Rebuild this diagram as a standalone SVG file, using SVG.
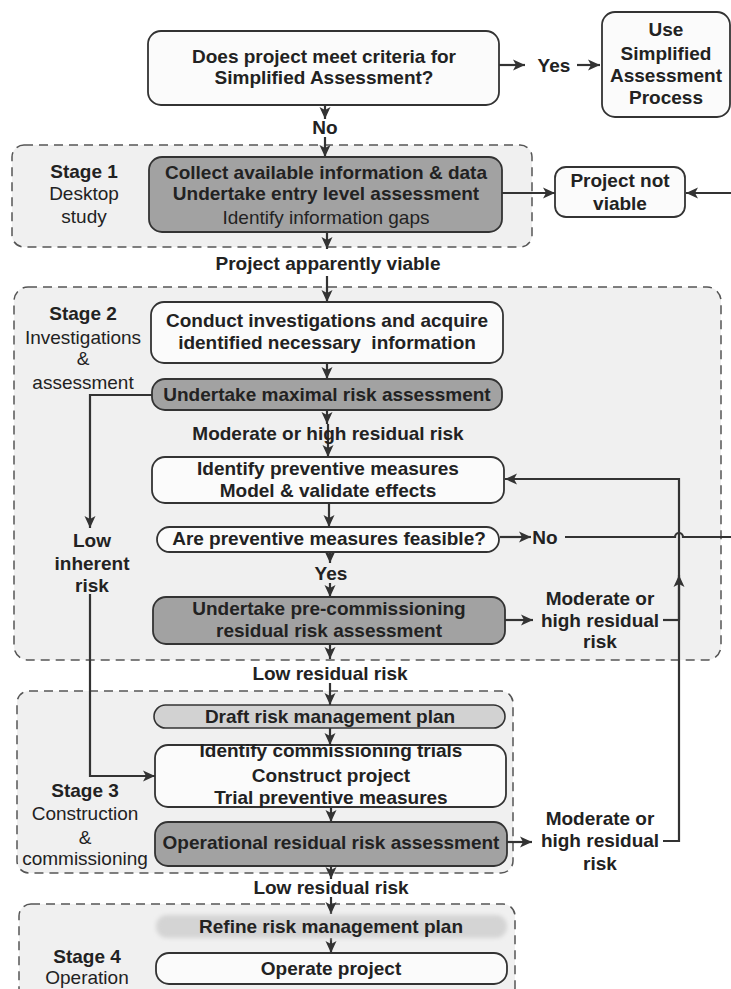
<svg xmlns="http://www.w3.org/2000/svg" width="731" height="989" viewBox="0 0 731 989">
<defs>
<marker id="ah" markerUnits="userSpaceOnUse" markerWidth="14" markerHeight="12" refX="12" refY="6" orient="auto">
<path d="M0,0.5 L12,6 L0,11.5 L3,6 Z" fill="#333"/>
</marker>
<filter id="blur" x="-5%" y="-30%" width="110%" height="160%"><feGaussianBlur stdDeviation="2"/></filter>
<style>
text{font-family:"Liberation Sans",Arial,sans-serif;font-size:19px;fill:#222;text-anchor:middle}
.b{font-weight:bold}
.stage{fill:#f0f0f0;stroke:#555;stroke-width:1.5;stroke-dasharray:9,6}
.box{fill:#fbfbfb;stroke:#333;stroke-width:1.8}
.grey{fill:#a2a2a2;stroke:#333;stroke-width:1.8}
.lt{fill:#d2d2d2;stroke:#333;stroke-width:1.6}
.c{fill:none;stroke:#333;stroke-width:2.2}
.ca{fill:none;stroke:#333;stroke-width:2.2;marker-end:url(#ah)}
</style>
</defs>
<rect width="731" height="989" fill="#ffffff"/>

<g id="stage1">
<rect class="stage" x="12" y="145" width="520" height="102" rx="12"/>
<text class="b" x="84" y="178">Stage 1</text>
<text x="84" y="200">Desktop</text>
<text x="84" y="223">study</text>
</g>
<g id="stage2">
<rect class="stage" x="14" y="287" width="707" height="373" rx="14"/>
<text class="b" x="83" y="320">Stage 2</text>
<text x="83" y="344">Investigations</text>
<text x="83" y="365">&amp;</text>
<text x="83" y="389">assessment</text>
</g>
<g id="stage3">
<rect class="stage" x="17" y="691" width="496" height="182" rx="12"/>
<text class="b" x="85" y="797">Stage 3</text>
<text x="85" y="820">Construction</text>
<text x="85" y="844">&amp;</text>
<text x="85" y="865">commissioning</text>
</g>
<g id="stage4">
<rect class="stage" x="19" y="904" width="496" height="96" rx="12"/>
<text class="b" x="87" y="963">Stage 4</text>
<text x="87" y="984">Operation</text>
</g>

<g id="connectors">
<path class="ca" d="M499,65 H525"/>
<path class="ca" d="M577,65 H600"/>
<path class="ca" d="M325,105 V119"/>
<path class="ca" d="M325,137 V157"/>
<path class="ca" d="M502,193 H555"/>
<path class="ca" d="M731,193 H686"/>
<path class="ca" d="M327,232 V249"/>
<path class="ca" d="M327,276 V302"/>
<path class="ca" d="M327,363 V379"/>
<path class="ca" d="M327,410 V424"/>
<path class="ca" d="M328,424 V457"/>
<path class="ca" d="M329,503 V527"/>
<path class="ca" d="M500,537 H531"/>
<path class="c" d="M565,537 H675 a4,4 0 0 1 8,0 H731"/>
<path class="ca" d="M152,395 H90 V528"/>
<path class="ca" d="M90,594 V776 H155"/>
<path class="ca" d="M330,552 V563"/>
<path class="ca" d="M330,583 V597"/>
<path class="ca" d="M505,620 H533"/>
<path class="c" d="M663,620 H679"/>
<path class="ca" d="M663,841 H679 V479 H505"/>
<path class="ca" d="M679,620 V575"/>
<path class="ca" d="M330,644 V659"/>
<path class="ca" d="M330,683 V705"/>
<path class="ca" d="M330,728 V745"/>
<path class="ca" d="M331,807 V822"/>
<path class="ca" d="M507,842 H532"/>
<path class="ca" d="M331,866 V879"/>
<path class="ca" d="M331,897 V914"/>
<path class="ca" d="M331,938 V953"/>
</g>

<g id="n_criteria">
<rect class="box" x="148" y="31" width="351" height="74" rx="13" fill="#fff"/>
<text class="b" x="324" y="63">Does project meet criteria for</text>
<text class="b" x="324" y="84">Simplified Assessment?</text>
</g>
<g id="l_yes"><text class="b" x="554" y="72">Yes</text></g>
<g id="n_simplified">
<rect class="box" x="602" y="12" width="128" height="105" rx="13"/>
<text class="b" x="666" y="36">Use</text>
<text class="b" x="666" y="60">Simplified</text>
<text class="b" x="666" y="82">Assessment</text>
<text class="b" x="666" y="104">Process</text>
</g>
<g id="l_no1"><text class="b" x="325" y="134">No</text></g>
<g id="n_collect">
<rect class="grey" x="149" y="157" width="353" height="75" rx="13"/>
<text class="b" x="326" y="179">Collect available information &amp; data</text>
<text class="b" x="326" y="200">Undertake entry level assessment</text>
<text x="326" y="224">Identify information gaps</text>
</g>
<g id="n_notviable">
<rect class="box" x="555" y="167" width="130" height="50" rx="11"/>
<text class="b" x="620" y="187">Project not</text>
<text class="b" x="620" y="210">viable</text>
</g>
<g id="l_viable"><text class="b" x="328" y="270">Project apparently viable</text></g>
<g id="n_conduct">
<rect class="box" x="151" y="302" width="352" height="61" rx="13"/>
<text class="b" x="327" y="327">Conduct investigations and acquire</text>
<text class="b" x="327" y="349" xml:space="preserve">identified necessary  information</text>
</g>
<g id="n_maximal">
<rect class="grey" x="152" y="379" width="350" height="31" rx="13"/>
<text class="b" x="327" y="401">Undertake maximal risk assessment</text>
</g>
<g id="l_modhigh1"><text class="b" x="328" y="440">Moderate or high residual risk</text></g>
<g id="n_identify">
<rect class="box" x="152" y="457" width="352" height="46" rx="13"/>
<text class="b" x="328" y="475">Identify preventive measures</text>
<text class="b" x="328" y="497">Model &amp; validate effects</text>
</g>
<g id="n_feasible">
<rect class="box" x="157" y="527" width="342" height="25" rx="12.5"/>
<text class="b" x="329" y="545">Are preventive measures feasible?</text>
</g>
<g id="l_no2"><text class="b" x="545" y="544">No</text></g>
<g id="l_lowinherent">
<text class="b" x="92" y="547">Low</text>
<text class="b" x="92" y="570">inherent</text>
<text class="b" x="92" y="592">risk</text>
</g>
<g id="l_yes2"><text class="b" x="331" y="580">Yes</text></g>
<g id="n_precomm">
<rect class="grey" x="153" y="597" width="352" height="47" rx="13"/>
<text class="b" x="329" y="615">Undertake pre-commissioning</text>
<text class="b" x="329" y="637">residual risk assessment</text>
</g>
<g id="l_modhigh2">
<text class="b" x="600" y="605">Moderate or</text>
<text class="b" x="600" y="627">high residual</text>
<text class="b" x="600" y="648">risk</text>
</g>
<g id="l_low1"><text class="b" x="330" y="680">Low residual risk</text></g>
<g id="n_draft">
<rect class="lt" x="154" y="705" width="351" height="23" rx="11.5"/>
<text class="b" x="330" y="723">Draft risk management plan</text>
</g>
<g id="n_construct">
<rect class="box" x="155" y="745" width="351" height="62" rx="13"/>
<text class="b" x="331" y="757">Identify commissioning trials</text>
<text class="b" x="331" y="782">Construct project</text>
<text class="b" x="331" y="804">Trial preventive measures</text>
</g>
<g id="n_operational">
<rect class="grey" x="155" y="822" width="352" height="44" rx="13"/>
<text class="b" x="331" y="849">Operational residual risk assessment</text>
</g>
<g id="l_modhigh3">
<text class="b" x="600" y="825">Moderate or</text>
<text class="b" x="600" y="847">high residual</text>
<text class="b" x="600" y="870">risk</text>
</g>
<g id="l_low2"><text class="b" x="331" y="894">Low residual risk</text></g>
<g id="n_refine">
<rect x="156" y="915" width="351" height="23" rx="11" fill="#d4d4d4" filter="url(#blur)"/>
<text class="b" x="331" y="933">Refine risk management plan</text>
</g>
<g id="n_operate">
<rect class="box" x="156" y="953" width="351" height="31" rx="13"/>
<text class="b" x="331" y="975">Operate project</text>
</g>
</svg>
